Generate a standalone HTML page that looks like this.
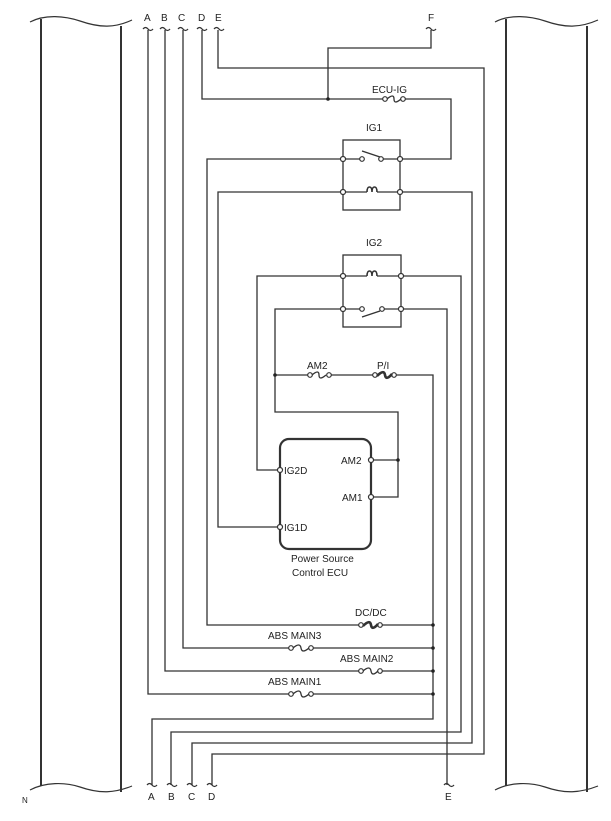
<!DOCTYPE html>
<html><head><meta charset="utf-8"><style>
html,body{margin:0;padding:0;background:#fff;}
svg{display:block;}
text{font-family:"Liberation Sans",sans-serif;font-size:10px;fill:#222;}
</style></head><body>
<svg width="611" height="821" viewBox="0 0 611 821" xmlns="http://www.w3.org/2000/svg">
<g fill="none" stroke="#333" stroke-width="1.3">
<!-- side panels -->
<path d="M30 22 C45 14,65 16,80 21 C100 28,115 28,132 20" stroke-width="1.2"/>
<path d="M30 790 C45 782,65 782,80 787 C100 794,115 793,132 786" stroke-width="1.2"/>
<line x1="41" y1="19" x2="41" y2="786" stroke-width="2"/>
<line x1="121" y1="26" x2="121" y2="792" stroke-width="2"/>
<path d="M495 22 C510 14,530 16,545 21 C565 28,580 28,598 20" stroke-width="1.2"/>
<path d="M495 790 C510 782,530 782,545 787 C565 794,580 793,598 786" stroke-width="1.2"/>
<line x1="506" y1="19" x2="506" y2="786" stroke-width="2"/>
<line x1="587" y1="26" x2="587" y2="792" stroke-width="2"/>
<!-- top tildes -->
<path d="M143 29 q2.5 -3 5 0 t5 0"/><path d="M160 29 q2.5 -3 5 0 t5 0"/>
<path d="M178 29 q2.5 -3 5 0 t5 0"/><path d="M197 29 q2.5 -3 5 0 t5 0"/>
<path d="M214 29 q2.5 -3 5 0 t5 0"/><path d="M426 29 q2.5 -3 5 0 t5 0"/>
<!-- bottom tildes -->
<path d="M147 785 q2.5 -3 5 0 t5 0"/><path d="M167 785 q2.5 -3 5 0 t5 0"/>
<path d="M187 785 q2.5 -3 5 0 t5 0"/><path d="M207 785 q2.5 -3 5 0 t5 0"/>
<path d="M444 785 q2.5 -3 5 0 t5 0"/>
<!-- wires -->
<polyline points="431,30 431,48 328,48 328,99"/>
<polyline points="218,30 218,68 484,68 484,754 212,754 212,785"/>
<polyline points="202,30 202,99 383,99"/>
<polyline points="405,99 451,99 451,159 400,159"/>
<polyline points="148,30 148,694 289,694"/><line x1="313" y1="694" x2="433" y2="694"/>
<polyline points="165,30 165,671 359,671"/><line x1="382" y1="671" x2="433" y2="671"/>
<polyline points="183,30 183,648 289,648"/><line x1="313" y1="648" x2="433" y2="648"/>
<polyline points="343,159 207,159 207,625 359,625"/><line x1="382" y1="625" x2="433" y2="625"/>
<polyline points="343,192 218,192 218,527 280,527"/>
<polyline points="400,192 472,192 472,743 192,743 192,785"/>
<!-- IG1 box -->
<rect x="343" y="140" width="57" height="70"/>
<line x1="343" y1="159" x2="361" y2="159"/><line x1="381" y1="159" x2="400" y2="159"/>
<line x1="362" y1="151" x2="380" y2="157"/>
<line x1="343" y1="192" x2="367" y2="192"/><line x1="377" y1="192" x2="400" y2="192"/>
<path d="M367 192 q0 -5 2.5 -5 q2.5 0 2.5 5 q0 -5 2.5 -5 q2.5 0 2.5 5" stroke-width="1.6"/>
<!-- IG2 box -->
<rect x="343" y="255" width="58" height="72"/>
<polyline points="343,276 257,276 257,470 280,470"/>
<line x1="343" y1="276" x2="367" y2="276"/><line x1="377" y1="276" x2="401" y2="276"/>
<path d="M367 276 q0 -5 2.5 -5 q2.5 0 2.5 5 q0 -5 2.5 -5 q2.5 0 2.5 5" stroke-width="1.6"/>
<polyline points="401,276 461,276 461,732 171,732 171,785"/>
<line x1="343" y1="309" x2="362" y2="309"/><line x1="382" y1="309" x2="401" y2="309"/>
<line x1="362" y1="317" x2="380" y2="311"/>
<polyline points="343,309 275,309 275,412 398,412 398,497 371,497"/>
<line x1="371" y1="460" x2="398" y2="460"/>
<polyline points="401,309 447,309 447,785"/>
<!-- AM2 / P/I -->
<line x1="275" y1="375" x2="308" y2="375"/>
<line x1="331" y1="375" x2="373" y2="375"/>
<polyline points="396,375 433,375 433,719 152,719 152,785"/>
<!-- ECU -->
<rect x="280" y="439" width="91" height="110" rx="9" stroke-width="2.2"/>
</g>
<!-- fuses -->
<g fill="#fff" stroke="#333" stroke-width="1.2">
<circle cx="385" cy="99" r="2.3"/><circle cx="403" cy="99" r="2.3"/>
<circle cx="310" cy="375" r="2.3"/><circle cx="329" cy="375" r="2.3"/>
<circle cx="375" cy="375" r="2.3"/><circle cx="394" cy="375" r="2.3"/>
<circle cx="361" cy="625" r="2.3"/><circle cx="380" cy="625" r="2.3"/>
<circle cx="291" cy="648" r="2.3"/><circle cx="311" cy="648" r="2.3"/>
<circle cx="361" cy="671" r="2.3"/><circle cx="380" cy="671" r="2.3"/>
<circle cx="291" cy="694" r="2.3"/><circle cx="311" cy="694" r="2.3"/>
<circle cx="343" cy="159" r="2.5"/><circle cx="400" cy="159" r="2.5"/>
<circle cx="362" cy="159" r="2.3"/><circle cx="381" cy="159" r="2.3"/>
<circle cx="343" cy="192" r="2.5"/><circle cx="400" cy="192" r="2.5"/>
<circle cx="343" cy="276" r="2.5"/><circle cx="401" cy="276" r="2.5"/>
<circle cx="343" cy="309" r="2.5"/><circle cx="401" cy="309" r="2.5"/>
<circle cx="362" cy="309" r="2.3"/><circle cx="382" cy="309" r="2.3"/>
<circle cx="280" cy="470" r="2.5"/><circle cx="280" cy="527" r="2.5"/>
<circle cx="371" cy="460" r="2.5"/><circle cx="371" cy="497" r="2.5"/>
</g>
<g fill="none" stroke="#333" stroke-width="1.3">
<path d="M387 99 q7 -6 7 0 t7 0"/>
<path d="M312 375 q7 -6 7 0 t7 0"/>
<path d="M377 376 q7 -7 8 -1 t7 -1" stroke-width="2.6"/>
<path d="M363 626 q7 -7 8 -1 t7 -1" stroke-width="2.6"/>
<path d="M293 648 q7 -6 8 0 t8 0"/>
<path d="M363 671 q7 -6 8 0 t7 0"/>
<path d="M293 694 q7 -6 8 0 t8 0"/>
</g>
<g fill="#222">
<circle cx="328" cy="99" r="1.8"/><circle cx="275" cy="375" r="1.8"/><circle cx="398" cy="460" r="1.8"/>
<circle cx="433" cy="625" r="1.8"/><circle cx="433" cy="648" r="1.8"/><circle cx="433" cy="671" r="1.8"/><circle cx="433" cy="694" r="1.8"/>
</g>
<text x="144" y="21">A</text><text x="161" y="21">B</text><text x="178" y="21">C</text><text x="198" y="21">D</text><text x="215" y="21">E</text><text x="428" y="21">F</text>
<text x="148" y="800">A</text><text x="168" y="800">B</text><text x="188" y="800">C</text><text x="208" y="800">D</text><text x="445" y="800">E</text>
<text x="22" y="803" style="font-size:8px">N</text>
<text x="372" y="93">ECU-IG</text>
<text x="366" y="131">IG1</text>
<text x="366" y="246">IG2</text>
<text x="307" y="369">AM2</text>
<text x="377" y="369">P/I</text>
<text x="284" y="474">IG2D</text>
<text x="284" y="531">IG1D</text>
<text x="341" y="464">AM2</text>
<text x="342" y="501">AM1</text>
<text x="291" y="562">Power Source</text>
<text x="292" y="576">Control ECU</text>
<text x="355" y="616">DC/DC</text>
<text x="268" y="639">ABS MAIN3</text>
<text x="340" y="662">ABS MAIN2</text>
<text x="268" y="685">ABS MAIN1</text>
</svg>
</body></html>
